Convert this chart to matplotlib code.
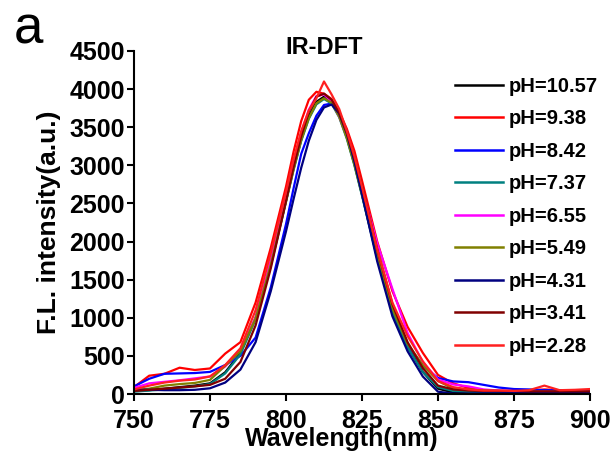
import matplotlib
matplotlib.use("Agg")
import matplotlib.pyplot as plt

plt.rcParams['font.family'] = ['Liberation Sans', 'DejaVu Sans']

wavelength = [750, 755, 760, 765, 770, 775, 780, 785, 790, 795, 800, 802.5, 805, 807.5, 810, 812.5,
              815, 817.5, 820, 822.5, 825, 830, 835, 840, 845, 850, 855, 860, 865, 870, 875, 880,
              885, 890, 895, 900]

ph_10_57 = [40, 50, 70, 90, 110, 140, 285, 540, 1000, 1700, 2540, 2964, 3342, 3641, 3834, 3900,
            3838, 3659, 3379, 3021, 2618, 1785, 1072, 620, 290, 70, 20, 15, 15, 20, 20, 20,
            20, 15, 15, 20]
ph_9_38 = [90, 240, 265, 345, 315, 335, 530, 680, 1200, 1920, 2720, 3180, 3580, 3860, 3965, 3940,
           3870, 3700, 3480, 3190, 2800, 2000, 1350, 880, 540, 250, 140, 80, 50, 40, 40, 45,
           60, 50, 45, 45]
ph_8_42 = [100, 200, 265, 270, 275, 290, 380, 500, 740, 1400, 2228, 2700, 3150, 3420, 3651, 3792,
           3810, 3700, 3440, 3080, 2680, 1800, 1100, 640, 370, 210, 165, 155, 120, 85, 65, 60,
           50, 50, 50, 50]
ph_7_37 = [30, 45, 60, 80, 100, 130, 270, 520, 980, 1680, 2520, 2940, 3320, 3610, 3800, 3870,
           3810, 3630, 3350, 3000, 2600, 1780, 1080, 610, 290, 90, 40, 30, 25, 25, 25, 25,
           25, 25, 25, 25]
ph_6_55 = [80, 140, 160, 180, 205, 230, 360, 580, 1000, 1760, 2600, 3030, 3420, 3730, 3910, 3930,
           3830, 3640, 3380, 3060, 2700, 1980, 1380, 800, 420, 190, 125, 100, 60, 45, 40, 35,
           35, 30, 30, 30]
ph_5_49 = [50, 70, 110, 130, 145, 185, 370, 560, 990, 1700, 2530, 2950, 3330, 3620, 3815, 3880,
           3820, 3640, 3360, 3010, 2620, 1800, 1120, 660, 380, 170, 70, 60, 45, 40, 35, 30,
           30, 30, 30, 30]
ph_4_31 = [60, 55, 50, 50, 55, 75, 150, 320, 680, 1350, 2134, 2560, 2967, 3322, 3595, 3759,
           3798, 3680, 3420, 3050, 2620, 1740, 1020, 560, 230, 30, 5, 5, 10, 10, 15, 15,
           15, 15, 15, 15]
ph_3_41 = [40, 55, 70, 85, 100, 120, 200, 420, 900, 1650, 2530, 2980, 3380, 3700, 3900, 3940,
           3860, 3690, 3430, 3100, 2730, 1900, 1180, 680, 340, 110, 60, 45, 40, 40, 40, 35,
           35, 35, 35, 35]
ph_2_28 = [60, 110, 150, 175, 190, 230, 380, 600, 1100, 1850, 2650, 3080, 3450, 3720, 3880, 4100,
           3930, 3740, 3450, 3120, 2720, 1900, 1200, 760, 430, 170, 90, 60, 45, 45, 40, 50,
           110, 50, 55, 65]

series = [ph_10_57, ph_9_38, ph_8_42, ph_7_37, ph_6_55, ph_5_49, ph_4_31, ph_3_41, ph_2_28]
labels = ['pH=10.57', 'pH=9.38', 'pH=8.42', 'pH=7.37', 'pH=6.55', 'pH=5.49', 'pH=4.31',
          'pH=3.41', 'pH=2.28']
colors = ['#000000', '#FF0000', '#0000FF', '#008080', '#FF00FF', '#808000', '#000080',
          '#800000', '#FF2020']

fig = plt.figure(figsize=(6.16, 4.54), dpi=100)
ax = fig.add_axes([134 / 616, 60 / 454, 456 / 616, 343 / 454])

for vals, lab, col in zip(series, labels, colors):
    ax.plot(wavelength, vals, color=col, lw=1.6, label=lab)

ax.set_xlim(750, 900)
ax.set_ylim(0, 4500)
ax.set_xticks(range(750, 901, 25))
ax.set_yticks(range(0, 4501, 500))
for s in ['top', 'right']:
    ax.spines[s].set_visible(False)
for s in ['left', 'bottom']:
    ax.spines[s].set_linewidth(1.5)
ax.tick_params(width=1.5, length=5, labelsize=18)
ax.tick_params(axis='x', pad=6)
ax.tick_params(axis='y', pad=1.5)
for lbl in ax.get_xticklabels() + ax.get_yticklabels():
    lbl.set_fontweight('bold')

# x label placed in figure pixels, it sits just under the tick labels
fig.text(342 / 616, 1 - 446 / 454, 'Wavelength(nm)', fontsize=18, fontweight='bold',
         ha='center', va='baseline')
ax.set_ylabel('F.L. intensity(a.u.)', fontsize=19, fontweight='bold', labelpad=6)

fig.text(324 / 616, 1 - 48 / 454, 'IR-DFT', fontsize=17, fontweight='bold',
         ha='center', va='center')
fig.text(14 / 616, 1 - 44 / 454, 'a', fontsize=38, ha='left', va='baseline')

leg = ax.legend(loc='upper left', bbox_to_anchor=(455 / 616, 1 - 77 / 454),
                bbox_transform=fig.transFigure, frameon=False, borderpad=0,
                borderaxespad=0, handlelength=2.4, handletextpad=0.25,
                labelspacing=0.67, prop={'size': 14.5, 'weight': 'bold'})
for line in leg.get_lines():
    line.set_linewidth(1.8)

fig.savefig('out.png', dpi=100)
